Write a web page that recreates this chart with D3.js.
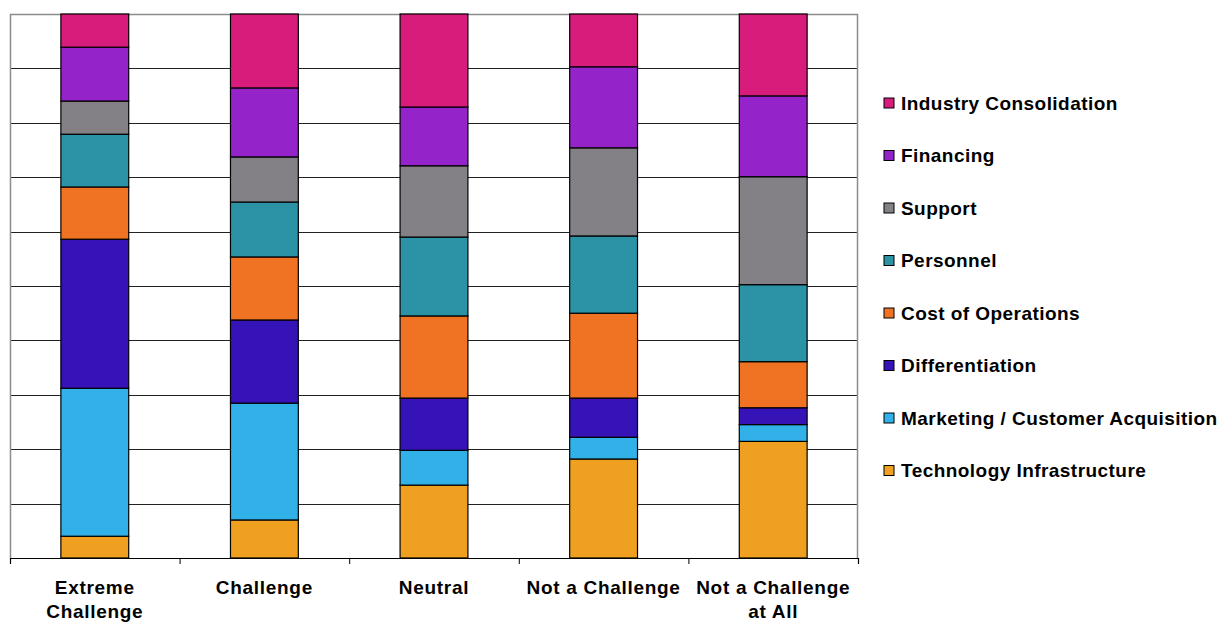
<!DOCTYPE html>
<html>
<head>
<meta charset="utf-8">
<script src="https://cdn.jsdelivr.net/npm/d3@7"></script>
<style>
  body { margin: 0; background: #fff; }
  svg text { font-family: "Liberation Sans", Arial, sans-serif; font-weight: bold; fill: #000; }
</style>
</head>
<body>
<div id="chart"></div>
<script>
// categories (x axis), each label may wrap to two lines
const categories = ["Extreme Challenge", "Challenge", "Neutral", "Not a Challenge", "Not a Challenge at All"];
const categoryLines = [["Extreme", "Challenge"], ["Challenge"], ["Neutral"], ["Not a Challenge"], ["Not a Challenge", "at All"]];

// series, bottom of stack first
const seriesNames = ["Technology Infrastructure", "Marketing / Customer Acquisition", "Differentiation",
    "Cost of Operations", "Personnel", "Support", "Financing", "Industry Consolidation"];
const seriesColors = ["#EFA021", "#31B1E8", "#3613B6", "#EF7322", "#2B93A5", "#838086", "#9424C9", "#D81C7C"];

// percentage values per series, in the order of categories
const techInfra     = [4.0, 7.0, 13.4, 18.2, 21.5];
const marketing     = [27.2, 21.5, 6.4, 4.0, 3.1];
const differentiate = [27.4, 15.3, 9.6, 7.2, 3.1];
const costOps       = [9.6, 11.6, 15.1, 15.6, 8.5];
const personnel     = [9.7, 10.1, 14.5, 14.2, 14.2];
const support       = [6.1, 8.3, 13.1, 16.2, 19.9];
const financing     = [9.9, 12.7, 10.8, 14.9, 14.9];
const consolidation = [6.1, 13.6, 17.1, 9.7, 15.1];

const seriesValues = [techInfra, marketing, differentiate, costOps, personnel, support, financing, consolidation];

const W = 1219, H = 622;
const margin = { top: 14, left: 10, right: 361, bottom: 64 };
const width = W - margin.left - margin.right;
const height = H - margin.top - margin.bottom;

// build table rows for d3.stack
const rows = categories.map((c, i) => {
    const r = { category: c };
    seriesNames.forEach((s, j) => r[s] = seriesValues[j][i]);
    return r;
});

const stacked = d3.stack().keys(seriesNames).offset(d3.stackOffsetExpand)(rows);

const svg = d3.select("#chart").append("svg").attr("width", W).attr("height", H);
const g = svg.append("g").attr("transform", `translate(${margin.left},${margin.top})`);

const x = d3.scaleBand().domain(categories).range([0, width]).paddingInner(0.6).paddingOuter(0.3);
const y = d3.scaleLinear().domain([0, 1]).range([height, 0]);
const color = d3.scaleOrdinal().domain(seriesNames).range(seriesColors);

// gridlines
const grid = g.append("g").attr("class", "grid")
    .call(d3.axisLeft(y).ticks(10).tickSize(-width).tickFormat(""));
grid.select(".domain").remove();
grid.selectAll(".tick line").attr("stroke", "#222").attr("shape-rendering", "crispEdges");

// plot frame (left/top/right in grey)
g.append("path")
    .attr("d", `M0.5,${height} V0.5 H${width - 0.5} V${height}`)
    .attr("fill", "none").attr("stroke", "#8c8c8c").attr("stroke-width", 1.5);

// bars
g.append("g").selectAll("g").data(stacked).join("g")
    .attr("fill", d => color(d.key))
    .selectAll("rect").data(d => d).join("rect")
    .attr("x", d => x(d.data.category))
    .attr("width", x.bandwidth())
    .attr("y", d => y(d[1]))
    .attr("height", d => y(d[0]) - y(d[1]))
    .attr("stroke", "#000").attr("stroke-width", 1.2);

// x axis with ticks on band boundaries
const xb = d3.scaleLinear().domain([0, categories.length]).range([0, width]);
const xAxis = g.append("g").attr("transform", `translate(0,${height})`)
    .call(d3.axisBottom(xb).ticks(categories.length).tickSize(6).tickFormat(""));
xAxis.select(".domain").attr("stroke", "#000").attr("stroke-width", 1.2);
xAxis.selectAll(".tick line").attr("stroke", "#000");

const labels = g.append("g").selectAll("text").data(categories).join("text")
    .attr("x", d => x(d) + x.bandwidth() / 2)
    .attr("y", height + 36)
    .attr("text-anchor", "middle")
    .style("font-size", "19px")
    .style("letter-spacing", "0.7px");
labels.selectAll("tspan").data((d, i) => categoryLines[i]).join("tspan")
    .attr("x", function () { return d3.select(this.parentNode).attr("x"); })
    .attr("dy", (d, i) => i === 0 ? 0 : 24)
    .text(d => d);

// legend, top entry is the top of the stack
const legendNames = seriesNames.slice().reverse();
const legend = svg.append("g").attr("transform", "translate(884,103)");
const item = legend.selectAll("g").data(legendNames).join("g")
    .attr("transform", (d, i) => `translate(0,${i * 52.5})`);
item.append("rect")
    .attr("x", 0).attr("y", -5).attr("width", 10).attr("height", 10)
    .attr("fill", d => color(d)).attr("stroke", "#000").attr("stroke-width", 1);
item.append("text")
    .attr("x", 17).attr("y", 6.5)
    .style("font-size", "19px")
    .style("letter-spacing", "0.45px")
    .text(d => d);
</script>
</body>
</html>
